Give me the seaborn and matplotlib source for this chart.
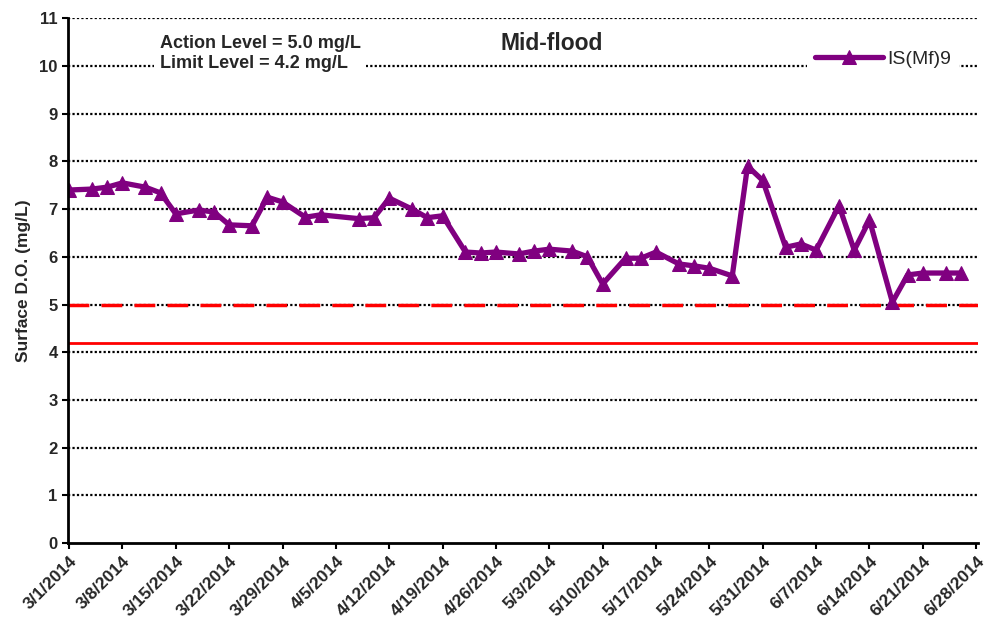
import matplotlib
matplotlib.use("Agg")
import matplotlib.pyplot as plt
import seaborn as sns
import pandas as pd

# sampling dates (month/day, 2014) and surface D.O. readings
fechas = ['3/1', '3/4', '3/6', '3/8', '3/11', '3/13', '3/15', '3/18', '3/20', '3/22',
          '3/25', '3/27', '3/29', '4/1', '4/3', '4/8', '4/10', '4/12', '4/15', '4/17',
          '4/19', '4/22', '4/24', '4/26', '4/29', '5/1', '5/3', '5/6', '5/8', '5/10',
          '5/13', '5/15', '5/17', '5/20', '5/22', '5/24', '5/27', '5/29', '5/31', '6/3',
          '6/5', '6/7', '6/10', '6/12', '6/14', '6/17', '6/19', '6/21', '6/24', '6/26']
do_vals = [7.40, 7.42, 7.46, 7.55, 7.46, 7.34, 6.90, 6.98, 6.94, 6.67,
           6.65, 7.25, 7.15, 6.83, 6.88, 6.80, 6.82, 7.23, 7.00, 6.82,
           6.86, 6.10, 6.08, 6.10, 6.06, 6.12, 6.16, 6.12, 6.00, 5.43,
           5.97, 5.97, 6.10, 5.85, 5.81, 5.76, 5.60, 7.90, 7.60, 6.20,
           6.27, 6.14, 7.07, 6.14, 6.77, 5.05, 5.62, 5.66, 5.66, 5.66]
serie = 'IS(Mf)9'
action_level = 5.0
limit_level = 4.2

tabela = pd.DataFrame({
    'data': pd.to_datetime([f + '/2014' for f in fechas], format='%m/%d/%Y'),
    'DO': do_vals,
})

sns.set_style('white')
plt.rcParams['font.family'] = ['Liberation Sans', 'DejaVu Sans']

fig = plt.figure(figsize=(9.87, 6.3), dpi=100)
ax = fig.add_axes([0.069, 0.138, 0.922, 0.833])

# grid lines (dotted)
for v in range(1, 12):
    ax.axhline(v, color='black', linestyle=(0, (1, 1)), linewidth=1.6, zorder=1)

ax.axhline(action_level, color='#ff0000', linestyle=(0, (6, 3.5)), linewidth=2.5, zorder=2)
ax.axhline(limit_level, color='#ff0000', linestyle='-', linewidth=2, zorder=2)

sns.lineplot(data=tabela, x='data', y='DO', ax=ax, color='#800080', linewidth=3.8,
             marker='^', markersize=10, markeredgecolor='#800080', label=serie, zorder=3)

ax.set_ylim(0, 11)
ax.set_yticks(range(0, 12))
ax.set_xlim(pd.Timestamp('2014-03-01') - pd.Timedelta(hours=3), pd.Timestamp('2014-06-28') + pd.Timedelta(hours=6))
ticks = pd.date_range('2014-03-01', '2014-06-28', freq='7D')
ax.set_xticks(ticks)
ax.set_xticklabels([f'{t.month}/{t.day}/{t.year}' for t in ticks], rotation=45,
                   ha='right', rotation_mode='anchor', fontsize=12.5, fontweight='bold')
for lab in ax.get_yticklabels():
    lab.set_fontweight('bold')
    lab.set_fontsize(12)
ax.tick_params(axis='both', direction='out', length=4, width=1.5, color='black', bottom=True, left=True)
ax.set_xlabel('')
ax.set_ylabel('Surface D.O. (mg/L)', fontsize=12.5, fontweight='bold', labelpad=6)

for s in ['top', 'right']:
    ax.spines[s].set_visible(False)
for s in ['left', 'bottom']:
    ax.spines[s].set_color('black')
    ax.spines[s].set_linewidth(2)
    ax.spines[s].set_zorder(4)

ax.text(0.101, 0.968, 'Action Level = 5.0 mg/L\nLimit Level = 4.2 mg/L', transform=ax.transAxes,
        fontsize=13, fontweight='bold', va='top', ha='left', linespacing=1.2,
        bbox=dict(facecolor='white', edgecolor='none', pad=4), zorder=5)
ax.text(0.531, 0.973, 'Mid-flood', transform=ax.transAxes, fontsize=16.5, fontweight='bold',
        va='top', ha='center', bbox=dict(facecolor='white', edgecolor='none', pad=2), zorder=5)

leg = ax.legend(loc='upper right', bbox_to_anchor=(0.985, 0.965), frameon=True, fontsize=14,
                handlelength=3.5, handletextpad=0.2, borderaxespad=0.3)
leg.get_frame().set_facecolor('white')
leg.get_frame().set_edgecolor('none')
leg.get_frame().set_alpha(1)
leg.set_zorder(5)

plt.savefig('out.png', dpi=100)
